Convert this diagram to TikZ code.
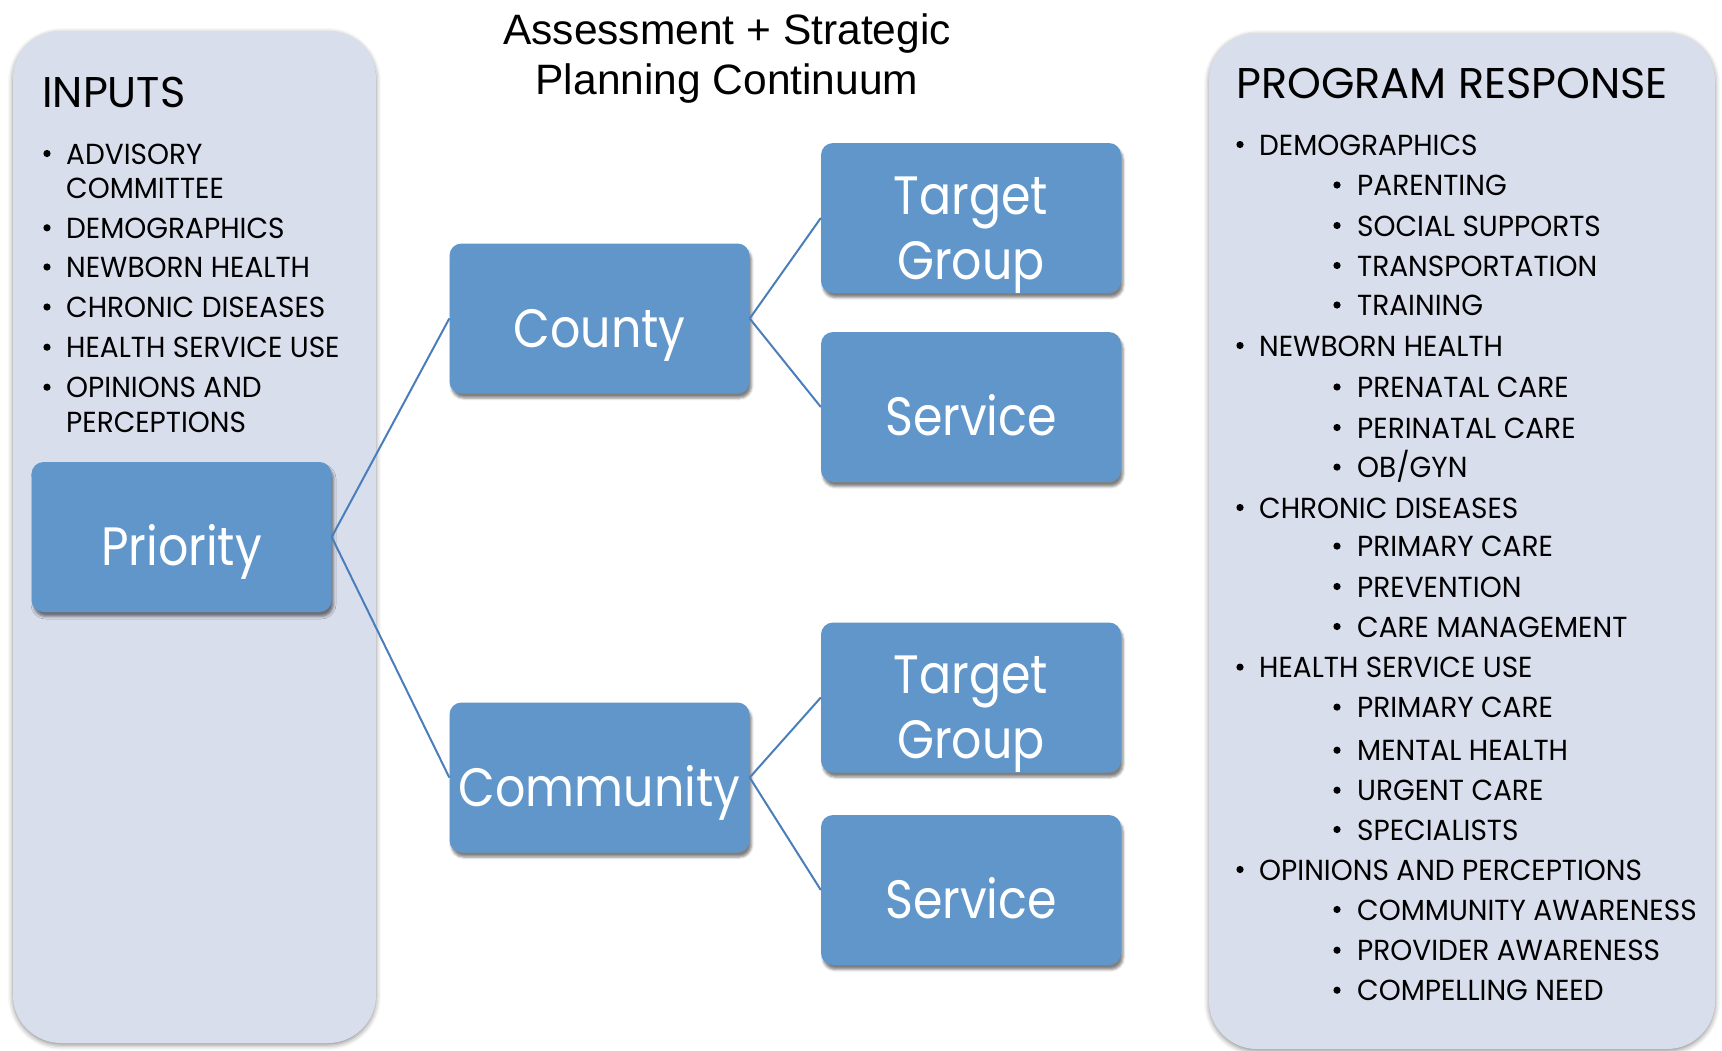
\documentclass[tikz,border=0pt]{standalone}
\usepackage{fontspec}
\setmainfont{Poppins}
\newfontfamily\pop[FakeStretch=0.88]{Poppins}
\newfontfamily\popi[FakeStretch=0.965]{Poppins}
\newfontfamily\arial{Liberation Sans}
\usetikzlibrary{shadows.blur}
\definecolor{panelfill}{RGB}{217,222,236}
\definecolor{boxfill}{RGB}{96,150,201}
\definecolor{linkcol}{RGB}{74,126,187}
\newcommand{\boxline}[1]{\raisebox{-28.5pt}[0pt][0pt]{#1}}
\begin{document}
\begin{tikzpicture}[x=1pt,y=-1pt,
  panel/.style={fill=panelfill, rounded corners=48pt,
    blur shadow={shadow xshift=0pt, shadow yshift=-2pt, shadow blur radius=5pt, shadow opacity=45}},
  bluebox/.style={fill=boxfill, rounded corners=12pt, minimum width=300pt, minimum height=150pt,
    inner sep=0pt, text=white, font=\pop\fontsize{54}{65}\selectfont, align=center,
    blur shadow={shadow xshift=2pt, shadow yshift=-4.5pt, shadow blur radius=2.5pt, shadow opacity=50}},
  link/.style={draw=linkcol, line width=2pt},
  item/.style={anchor=base west, inner sep=0pt, font=\popi\fontsize{29}{34}\selectfont},
  head/.style={anchor=base west, inner sep=0pt, font=\fontsize{43}{50}\selectfont},
  ttl/.style={anchor=base, inner sep=0pt, font=\arial\fontsize{42.5}{51}\selectfont},
  dot/.style={fill=black}
]
\useasboundingbox (0,0) rectangle (1722,1050);

% panels
\path[panel] (13,31) rectangle (376,1043);
\path[panel] (1209,33) rectangle (1715,1049);

% title
\node[ttl] (title1) at (727,44) {Assessment + Strategic};
\node[ttl] (title2) at (727,94) {Planning Continuum};

% left panel
\node[head] (inputs) at (42,107) {INPUTS};
\foreach \y/\t [count=\i] in {164/ADVISORY, 238.3/DEMOGRAPHICS, 277.5/NEWBORN HEALTH, 317.5/CHRONIC DISEASES, 357.7/HEALTH SERVICE USE, 397.7/OPINIONS AND}{
  \node[item] (l\i) at (66,\y) {\t};
  \fill[dot] (47,\y-10.5) circle (3.6pt);
}
\node[item] (l1b) at (66,198.3) {COMMITTEE};
\node[item] (l6b) at (66,432.7) {PERCEPTIONS};

% right panel
\node[head] (prog) at (1236,98) {PROGRAM RESPONSE};
\foreach \lv/\y/\t [count=\i] in {
  1/155/DEMOGRAPHICS, 2/195.5/PARENTING, 2/236/SOCIAL SUPPORTS, 2/276/TRANSPORTATION, 2/315.5/TRAINING,
  1/356/NEWBORN HEALTH, 2/397.5/PRENATAL CARE, 2/438/PERINATAL CARE, 2/477.6/OB\slash GYN,
  1/518/CHRONIC DISEASES, 2/556.6/PRIMARY CARE, 2/597/PREVENTION, 2/637/CARE MANAGEMENT,
  1/677.6/HEALTH SERVICE USE, 2/717.6/PRIMARY CARE, 2/760.7/MENTAL HEALTH, 2/800.7/URGENT CARE, 2/840/SPECIALISTS,
  1/880/OPINIONS AND PERCEPTIONS, 2/920/COMMUNITY AWARENESS, 2/960.7/PROVIDER AWARENESS, 2/1000.7/COMPELLING NEED}{
  \ifnum\lv=1
    \node[item] (r\i) at (1259,\y) {\t};
    \fill[dot] (1240,\y-10.5) circle (3.6pt);
  \else
    \node[item] (r\i) at (1357,\y) {\t};
    \fill[dot] (1337,\y-10.5) circle (3.6pt);
  \fi
}

% boxes
\node[bluebox] (pri) at (181.5,537) {\boxline{Priority}};
\node[bluebox] (county) at (599.5,318.5) {\boxline{County}};
\node[bluebox] (comm) at (599.5,777.5) {\boxline{Community}};
\node[bluebox] (tg1) at (971,218) {\boxline{Target}\\\boxline{Group}};
\node[bluebox] (sv1) at (971,407) {\boxline{Service}};
\node[bluebox] (tg2) at (971,697.5) {\boxline{Target}\\\boxline{Group}};
\node[bluebox] (sv2) at (971,890) {\boxline{Service}};

% links
\draw[link] (pri.east) -- (county.west);
\draw[link] (pri.east) -- (comm.west);
\draw[link] (county.east) -- (tg1.west);
\draw[link] (county.east) -- (sv1.west);
\draw[link] (comm.east) -- (tg2.west);
\draw[link] (comm.east) -- (sv2.west);
\end{tikzpicture}
\end{document}
